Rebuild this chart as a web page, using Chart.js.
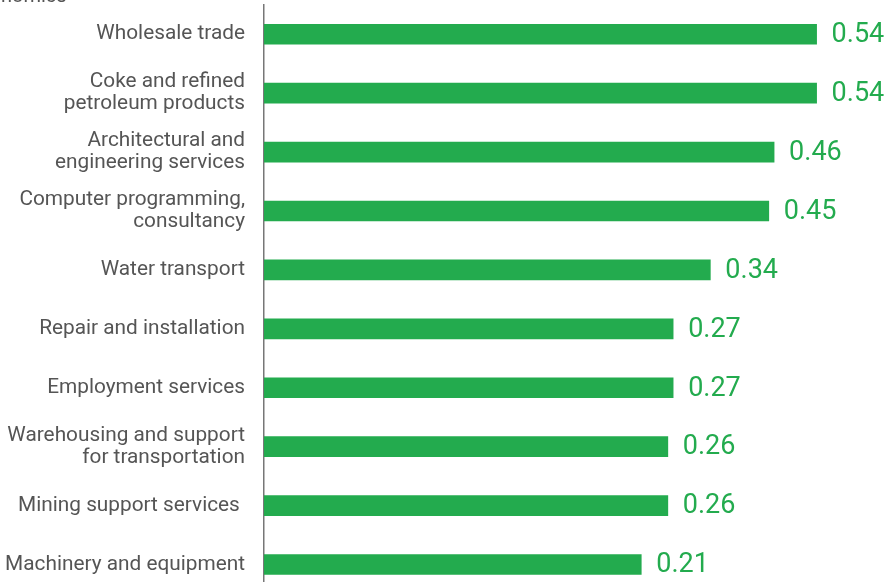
<!DOCTYPE html>
<html>
<head>
<meta charset="utf-8">
<script src="https://cdn.jsdelivr.net/npm/chart.js@4.4.0/dist/chart.umd.min.js"></script>
<style>
html,body{margin:0;padding:0;background:#fff;overflow:hidden;}
#wrap{width:891px;height:594px;position:relative;}
</style>
</head>
<body>
<div id="wrap"><canvas id="c"></canvas></div>
<script>
const categories = [
  "Wholesale trade",
  ["Coke and refined", "petroleum products"],
  ["Architectural and", "engineering services"],
  ["Computer programming,", "consultancy"],
  "Water transport",
  "Repair and installation",
  "Employment services",
  ["Warehousing and support", "for transportation"],
  "Mining support services ",
  "Machinery and equipment"
];
const values = [0.54, 0.54, 0.46, 0.45, 0.34, 0.27, 0.27, 0.26, 0.26, 0.21];
const valueLabels = ["0.54", "0.54", "0.46", "0.45", "0.34", "0.27", "0.27", "0.26", "0.26", "0.21"];
const topText = "nomics";

const GREEN = "#23AB4E";

const valueLabelPlugin = {
  id: 'valueLabels',
  afterDatasetsDraw(chart) {
    const ctx = chart.ctx;
    const meta = chart.getDatasetMeta(0);
    ctx.save();
    ctx.font = '27px Roboto';
    ctx.fillStyle = GREEN;
    ctx.textAlign = 'left';
    ctx.textBaseline = 'middle';
    meta.data.forEach((bar, i) => {
      ctx.fillText(valueLabels[i], bar.x + 15, bar.y + 1);
    });
    ctx.restore();
  },
  afterDraw(chart) {
    const ctx = chart.ctx;
    ctx.save();
    ctx.font = '20px Roboto';
    ctx.fillStyle = '#555';
    ctx.textAlign = 'left';
    ctx.textBaseline = 'alphabetic';
    ctx.fillText(topText, 1, 2);
    ctx.restore();
  }
};

new Chart(document.getElementById('c'), {
  type: 'bar',
  data: {
    labels: categories,
    datasets: [{
      data: values,
      backgroundColor: GREEN,
      barThickness: 20,
      base: -0.5
    }]
  },
  options: {
    indexAxis: 'y',
    responsive: true,
    maintainAspectRatio: false,
    animation: false,
    layout: { padding: { top: 4.75, right: 0, bottom: 0, left: 0 } },
    plugins: { legend: { display: false }, tooltip: { enabled: false } },
    scales: {
      x: {
        display: false,
        min: -0.5,
        max: 0.68
      },
      y: {
        grid: { display: false, drawTicks: false },
        border: { display: true, color: '#777', width: 1.5 },
        ticks: {
          color: '#555',
          font: { family: 'Roboto', size: 20.8, lineHeight: 1.06 },
          padding: 19,
          crossAlign: 'near'
        },
        afterFit(scale) {
          scale.width = 264;
          scale.paddingTop = 0;
          scale.paddingBottom = 0;
        }
      }
    }
  },
  plugins: [valueLabelPlugin]
});
</script>
</body>
</html>
